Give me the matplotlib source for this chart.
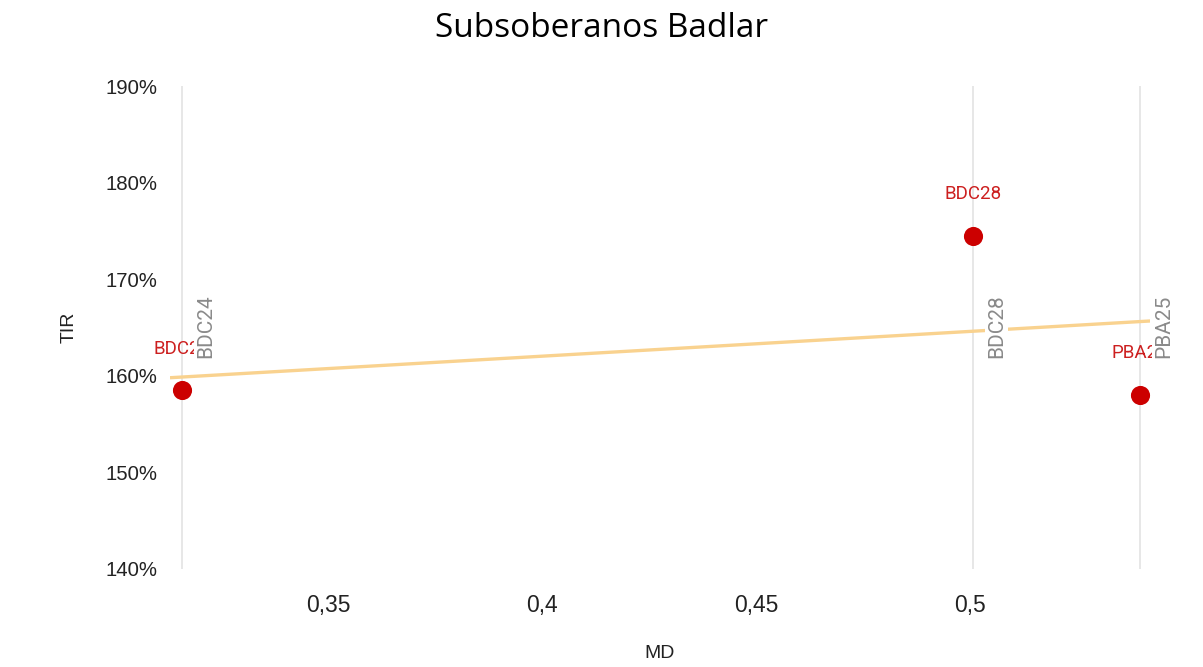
import numpy as np
import matplotlib.pyplot as plt
from matplotlib.ticker import FuncFormatter, FixedLocator

# bonds: modified duration (MD) vs yield (TIR, %)
bonds = ["BDC24", "BDC28", "PBA25"]
md = [0.3159, 0.5007, 0.5397]
tir = [158.5, 174.5, 158.0]

xticks = [0.35, 0.4, 0.45, 0.5]
yticks = [140, 150, 160, 170, 180, 190]

fig = plt.figure(figsize=(12.03, 6.67), dpi=100)
ax = fig.add_axes([0.1413, 0.147, 0.8147, 0.724])

xlim = (0.3131, 0.542)
ax.set_xlim(xlim)
ax.set_ylim(140, 190)

# linear trend
slope, inter = np.polyfit(md, tir, 1)
xs = np.array(xlim)
ax.plot(xs, slope * xs + inter - 0.3, color="#f9d28f", lw=2.4, zorder=2, solid_capstyle="butt")

for name, x, y in zip(bonds, md, tir):
    ax.axvline(x, color="#e3e3e3", lw=1.2, zorder=1)
    ax.scatter(x, y, s=190, color="#cc0000", zorder=4, linewidths=0)
    ax.annotate(name, (x, y), xytext=(0, 30), textcoords="offset points",
                ha="center", va="center", color="#cc1f1f", fontsize=13.5,
                family="Roboto", zorder=5)
    ax.annotate(name, (x, 161.8), xytext=(17, 0), textcoords="offset points",
                rotation=90, ha="center", va="bottom", color="#8a8a8a",
                fontsize=15, family="Roboto", zorder=6,
                bbox=dict(boxstyle="square,pad=0.1", fc="white", ec="none"))

ax.xaxis.set_major_locator(FixedLocator(xticks))
ax.yaxis.set_major_locator(FixedLocator(yticks))
ax.xaxis.set_major_formatter(FuncFormatter(lambda v, p: ("%g" % v).replace(".", ",")))
ax.yaxis.set_major_formatter(FuncFormatter(lambda v, p: "%d%%" % v))
ax.tick_params(length=0, colors="#222222")
ax.tick_params(axis="x", pad=18, labelsize=16.5)
ax.tick_params(axis="y", pad=9, labelsize=14.7)
for lab in ax.get_xticklabels() + ax.get_yticklabels():
    lab.set_family("Liberation Sans")
for s in ax.spines.values():
    s.set_visible(False)

ax.set_xlabel("MD", fontsize=14, family="Liberation Sans", labelpad=20, color="#222222")
ax.set_ylabel("TIR", fontsize=14, family="Liberation Sans", labelpad=20, color="#222222")

fig.text(0.5, 0.957, "Subsoberanos Badlar", ha="center", va="center",
         fontsize=24, family="Open Sans", color="black")

fig.savefig("out.png", dpi=100)
